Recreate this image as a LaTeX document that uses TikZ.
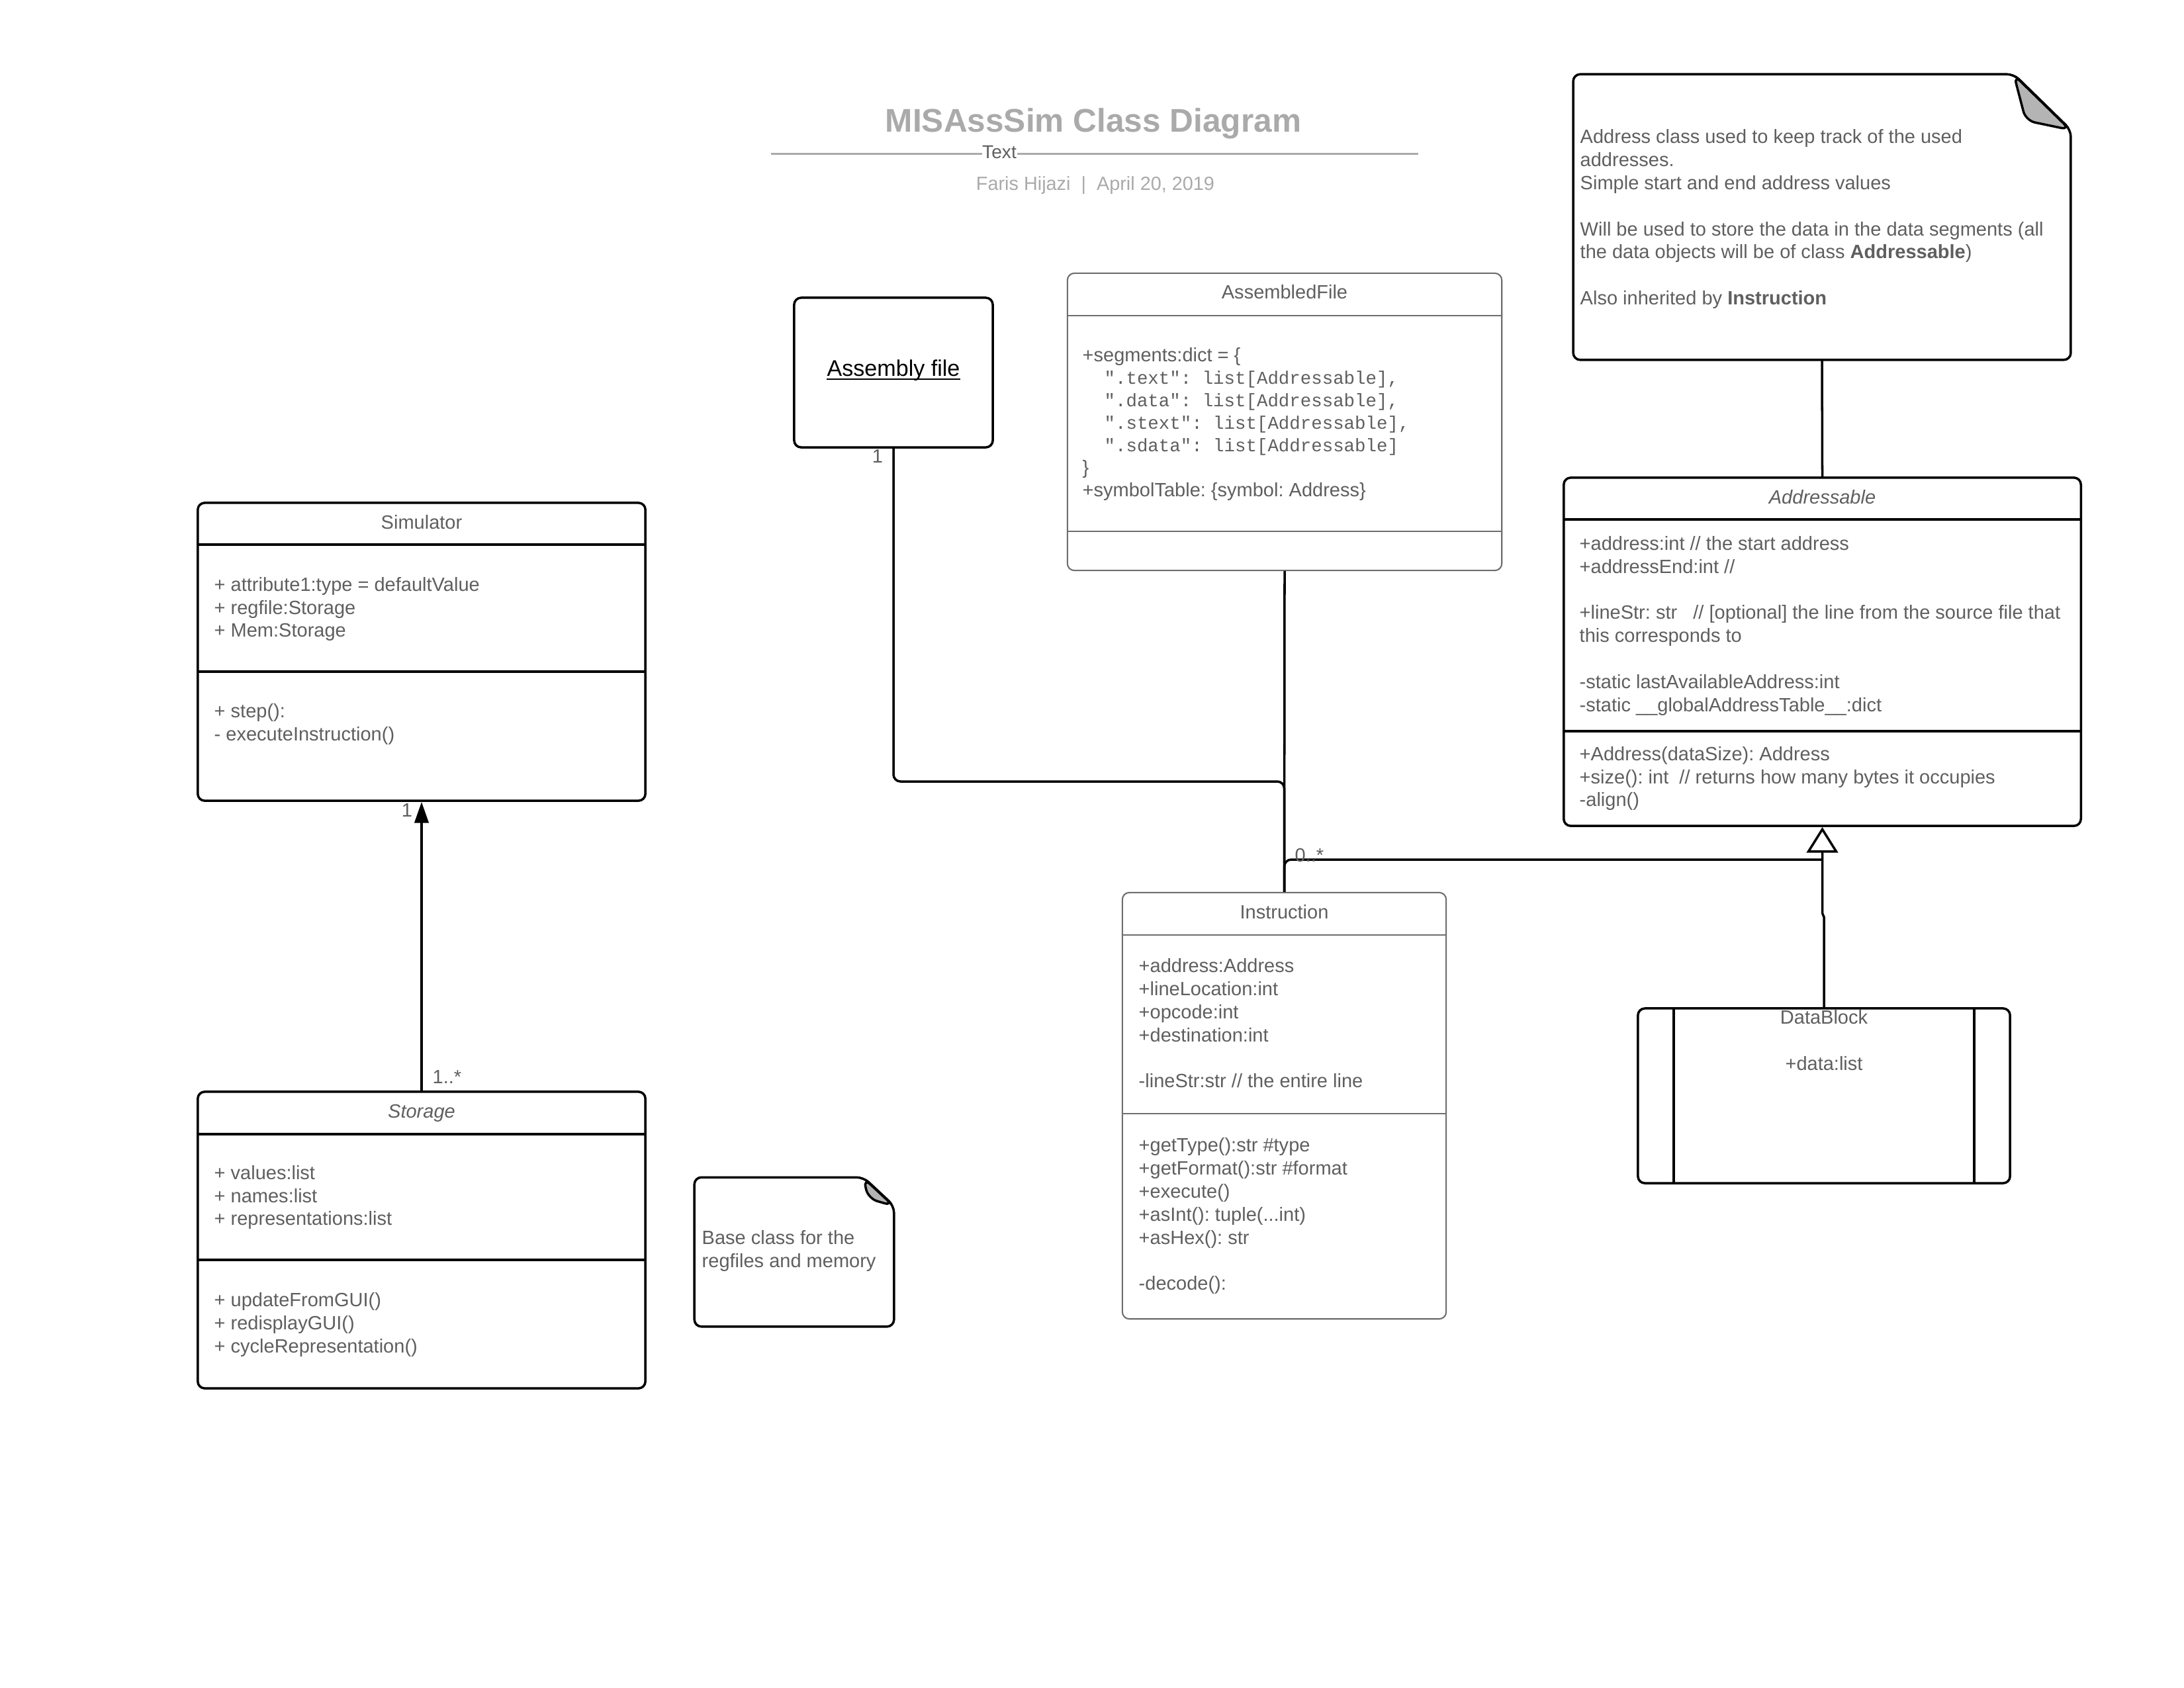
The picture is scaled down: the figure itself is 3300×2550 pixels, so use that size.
\documentclass[tikz,border=0pt]{standalone}
\usepackage{fontspec}
\setmainfont{Liberation Sans}
\newfontfamily\monof{Liberation Mono}
\usetikzlibrary{arrows.meta,calc}

\definecolor{txt}{RGB}{95,95,95}
\definecolor{ttl}{RGB}{170,170,170}
\definecolor{thin}{RGB}{110,110,110}
\definecolor{flap}{RGB}{180,180,180}

\newcommand\bodyf{\fontsize{8.25}{9.9}\selectfont}
\newcommand\fst{\rule{0pt}{7pt}}
\newcommand\mc[1]{{\monof\fontsize{7.8}{9.65}\selectfont#1}}

\begin{document}
\frenchspacing
\begin{tikzpicture}[x=0.01cm,y=-0.01cm,
  every node/.style={text=txt},
  thickbox/.style={draw=black, line width=1pt, rounded corners=3pt, fill=white, inner sep=0pt},
  thinbox/.style={draw=thin, line width=0.6pt, rounded corners=3pt, fill=white, inner sep=0pt},
  conn/.style={draw=black, line width=1pt},
  thickdiv/.style={draw=black, line width=1pt},
  thindiv/.style={draw=thin, line width=0.6pt},
  notebox/.style={draw=black, line width=1pt, fill=white, rounded corners=3pt},
  flapfill/.style={draw=black, line width=1pt, fill=flap, rounded corners=4pt},
  body/.style={anchor=north west, align=left, inner sep=0pt, font=\bodyf, text=txt},
  lbl/.style={anchor=base, inner sep=0pt, font=\bodyf, text=txt},
  lblw/.style={lbl, anchor=base west}]

\fill[white] (0,0) rectangle (3300,2550);
\useasboundingbox (0,0) rectangle (3300,2550);

% ---------- heading ----------
\node[anchor=base, inner sep=0pt, font=\fontsize{14.1}{17}\selectfont\bfseries, text=ttl] (title) at (1652,199) {MISAssSim Class Diagram};
\coordinate (tl1) at (1165,232.5);
\coordinate (tl2) at (2143,232.5);
\node[anchor=base, inner sep=0pt, font=\fontsize{8}{9.6}\selectfont, text=txt] (sub) at (1510,239) {Text};
\draw[ttl, line width=1pt] (tl1) -- (tl1 -| sub.west);
\draw[ttl, line width=1pt] (sub.east |- tl2) -- (tl2);
\node[anchor=base, inner sep=0pt, font=\fontsize{8.2}{9.8}\selectfont, text=ttl] (author) at (1655,287.5) {Faris Hijazi\ \ |\ \ April 20, 2019};

% ---------- Simulator ----------
\node[thickbox, minimum width=6.76cm, minimum height=4.5cm] (sim) at (637,985) {};
\draw[thickdiv] ($(sim.north west)+(0,65)$) -- ($(sim.north east)+(0,65)$);
\draw[thickdiv] ($(sim.north west)+(0,257)$) -- ($(sim.north east)+(0,257)$);
\node[lbl] (simT) at (637,799) {Simulator};
\node[body] (simA) at (323,868) {\fst+ attribute1:type = defaultValue\\+ regfile:Storage\\+ Mem:Storage};
\node[body] (simM) at (323,1059.5) {\fst+ step():\\- executeInstruction()};

% ---------- Storage ----------
\node[thickbox, minimum width=6.76cm, minimum height=4.48cm] (sto) at (637,1874) {};
\draw[thickdiv] ($(sto.north west)+(0,66)$) -- ($(sto.north east)+(0,66)$);
\draw[thickdiv] ($(sto.north west)+(0,256)$) -- ($(sto.north east)+(0,256)$);
\node[lbl, font=\bodyf\itshape] (stoT) at (637,1689.5) {Storage};
\node[body] (stoA) at (323,1757) {\fst+ values:list\\+ names:list\\+ representations:list};
\node[body] (stoM) at (323,1949.5) {\fst+ updateFromGUI()\\+ redisplayGUI()\\+ cycleRepresentation()};

% Storage -> Simulator association
\draw[conn, -{Triangle[length=9pt,width=6pt]}] (sto.north) -- (sim.south);
\node[lbl] (mSim) at (615,1234) {1};
\node[lblw] (mSto) at (653,1637) {1..*};

% ---------- note on Storage ----------
\node[minimum width=3cm, minimum height=2.24cm, inner sep=0pt] (noteB) at (1200,1892) {};
\draw[notebox] (noteB.south west) -- (noteB.north west) -- ($(noteB.north east)+(-46,0)$)
  -- ($(noteB.north east)+(0,43)$) -- (noteB.south east) -- cycle;
\draw[flapfill] ($(noteB.north east)+(-46,1)$) -- ($(noteB.north east)+(-39,32)$) -- ($(noteB.north east)+(-1,43)$) -- cycle;
\node[body] (noteBt) at (1060,1855) {\fst Base class for the\\regfiles and memory};

% ---------- Assembly file ----------
\node[thickbox, minimum width=3cm, minimum height=2.26cm] (asm) at (1350,563) {};
\node[anchor=base, inner sep=0pt, font=\fontsize{9.7}{11.6}\selectfont, text=black] (asmT) at (1350,568) {Assembly file};
\draw[black, line width=0.6pt] ($(asmT.base west)+(0,5)$) -- ($(asmT.base east)+(0,5)$);
\node[lbl] (mAsm) at (1326,699) {1};

% ---------- AssembledFile ----------
\node[thinbox, minimum width=6.56cm, minimum height=4.49cm] (asd) at (1941,637.5) {};
\draw[thindiv] ($(asd.north west)+(0,65)$) -- ($(asd.north east)+(0,65)$);
\draw[thindiv] ($(asd.north west)+(0,391)$) -- ($(asd.north east)+(0,391)$);
\node[lbl] (asdT) at (1941,451.5) {AssembledFile};
\node[body, font=\fontsize{8.25}{9.65}\selectfont] (asdA) at (1635,521.5) {\fst+segments:dict = \{\\
\mc{\ \ ".text": list[Addressable],}\\
\mc{\ \ ".data": list[Addressable],}\\
\mc{\ \ ".stext": list[Addressable],}\\
\mc{\ \ ".sdata": list[Addressable]}\\
\}\\
+symbolTable: \{symbol: Address\}};

% ---------- note on Addressable ----------
\node[minimum width=7.5cm, minimum height=4.3cm, inner sep=0pt] (noteA) at (2753,328) {};
\draw[notebox] (noteA.south west) -- (noteA.north west) -- ($(noteA.north east)+(-86,0)$)
  -- ($(noteA.north east)+(0,84)$) -- (noteA.south east) -- cycle;
\draw[flapfill] ($(noteA.north east)+(-86,1)$) -- ($(noteA.north east)+(-68,70)$) -- ($(noteA.north east)+(-1,84)$) -- cycle;
\node[body] (noteAt) at (2387,191.5) {\fst Address class used to keep track of the used\\addresses.\\Simple start and end address values\\[9.9pt]Will be used to store the data in the data segments (all\\the data objects will be of class \textbf{Addressable})\\[9.9pt]Also inherited by \textbf{Instruction}};

% ---------- Addressable ----------
\node[thickbox, minimum width=7.81cm, minimum height=5.26cm] (addr) at (2753.5,985) {};
\draw[thickdiv] ($(addr.north west)+(0,65)$) -- ($(addr.north east)+(0,65)$);
\draw[thickdiv] ($(addr.north west)+(0,385)$) -- ($(addr.north east)+(0,385)$);
\node[lbl, font=\bodyf\itshape] (addrT) at (2753.5,761) {Addressable};
\node[body] (addrA) at (2386,806) {\fst+address:int // the start address\\+addressEnd:int //\\[9.9pt]+lineStr: str\ \ \ // [optional] the line from the source file that\\this corresponds to\\[9.9pt]-static lastAvailableAddress:int\\-static \_\_globalAddressTable\_\_:dict};
\node[body] (addrM) at (2386,1124) {\fst+Address(dataSize): Address\\+size(): int\ \ // returns how many bytes it occupies\\-align()};
\draw[conn] (noteA.south) -- (addr.north);

% ---------- Instruction ----------
\node[thinbox, minimum width=4.89cm, minimum height=6.44cm] (inst) at (1940.5,1671) {};
\draw[thindiv] ($(inst.north west)+(0,65)$) -- ($(inst.north east)+(0,65)$);
\draw[thindiv] ($(inst.north west)+(0,335)$) -- ($(inst.north east)+(0,335)$);
\node[lbl] (instT) at (1940.5,1388.7) {Instruction};
\node[body] (instA) at (1720,1444.4) {\fst+address:Address\\+lineLocation:int\\+opcode:int\\+destination:int\\[9.9pt]-lineStr:str // the entire line};
\node[body] (instM) at (1720,1715.4) {\fst+getType():str \#type\\+getFormat():str \#format\\+execute()\\+asInt(): tuple(...int)\\+asHex(): str\\[9.9pt]-decode():};

% ---------- DataBlock ----------
\node[thickbox, minimum width=5.62cm, minimum height=2.64cm] (db) at (2756,1656) {};
\draw[thickdiv] ($(db.north west)+(56,0)$) -- ($(db.south west)+(56,0)$);
\draw[thickdiv] ($(db.north east)+(-56,0)$) -- ($(db.south east)+(-56,0)$);
\node[lbl] (dbT) at (2756,1547) {DataBlock};
\node[lbl] (dbA) at (2756,1617) {+data:list};

% ---------- connectors ----------
\coordinate (bendA) at (1350,1181);
\draw[conn, rounded corners=3pt] (asm.south) -- (bendA) -| (inst.north);
\draw[conn] (asd.south) -- (inst.north);

\coordinate (genJ) at (2753.5,1299);
\draw[conn, rounded corners=3pt] (inst.north) |- (genJ);
\node[lblw] (mInst) at (1956,1302) {0..*};

\coordinate (j1) at (2756,1386);
\coordinate (j2) at (2753.5,1380);
\draw[conn, -{Triangle[open, length=11pt, width=13.5pt]}] (db.north) -- (j1) -- (j2) -- (addr.south);

\end{tikzpicture}
\end{document}
